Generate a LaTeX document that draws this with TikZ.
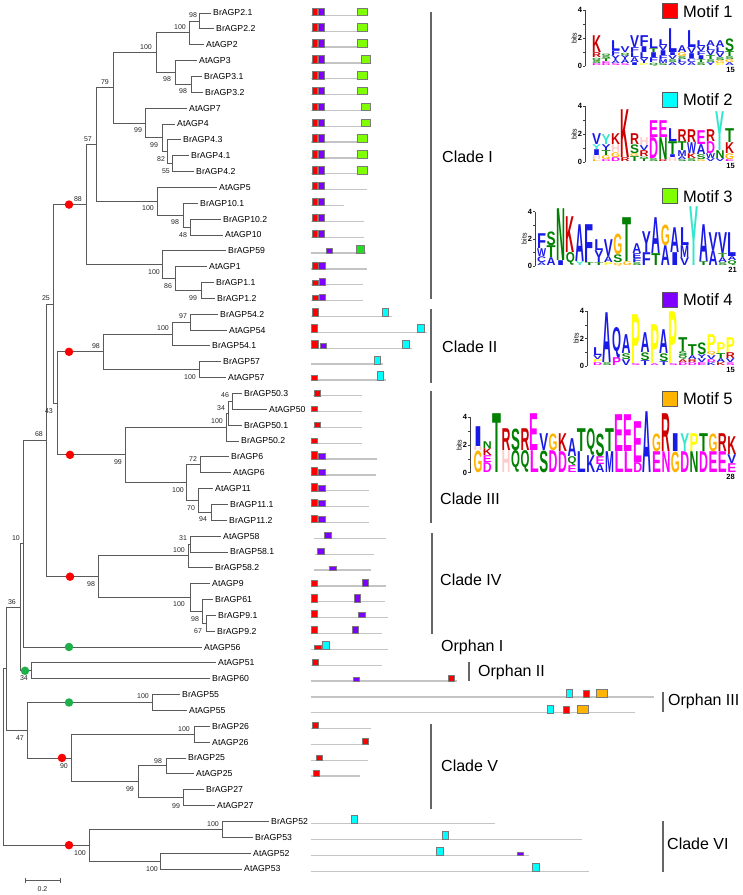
\documentclass[tikz,border=0pt]{standalone}
\usepackage{fontspec}
\setmainfont{Liberation Sans}
\usepackage{graphicx}
\usetikzlibrary{positioning}

\definecolor{treeline}{HTML}{5A5A5A}
\definecolor{protgray}{HTML}{C4C4C4}
\definecolor{boxedge}{HTML}{7A7A7A}
\definecolor{mone}{HTML}{FF0000}
\definecolor{mtwo}{HTML}{00FFFF}
\definecolor{mthree}{HTML}{80FF00}
\definecolor{mthreeb}{HTML}{22DD22}
\definecolor{mfour}{HTML}{8000FF}
\definecolor{mfive}{HTML}{FFB400}
\definecolor{cB}{HTML}{1A1AE6}
\definecolor{cR}{HTML}{CC0000}
\definecolor{cG}{HTML}{008000}
\definecolor{cM}{HTML}{FF00FF}
\definecolor{cH}{HTML}{FFCCCC}
\definecolor{cO}{HTML}{FFB300}
\definecolor{cY}{HTML}{FFFF00}
\definecolor{cC}{HTML}{33E6CC}
\definecolor{dotred}{HTML}{FF0000}
\definecolor{dotgreen}{HTML}{1DB04B}

\tikzset{
  branch/.style={draw=treeline, line width=0.8pt},
  leaf/.style={anchor=west, inner xsep=2.5pt, inner ysep=0pt, font=\fontsize{8.7}{10}\selectfont},
  boot/.style={inner sep=0pt, font=\fontsize{7}{8}\selectfont, text=black!85},
  reddot/.style={circle, fill=dotred, inner sep=0pt, minimum size=8.5pt},
  greendot/.style={circle, fill=dotgreen, inner sep=0pt, minimum size=8.5pt},
  protein/.style={draw=protgray, line width=1.3pt},
  motifbox/.style={draw=boxedge, line width=0.4pt},
  cladebar/.style={draw=black!60, line width=1.1pt},
  cladelabel/.style={anchor=west, inner sep=0pt, font=\fontsize{16}{18}\selectfont},
  keybox/.style={draw=black!65, line width=0.8pt, minimum size=15pt, inner sep=0pt},
  keylabel/.style={inner sep=0pt, font=\fontsize{16.5}{18}\selectfont},
  logoletter/.style={anchor=south west, inner sep=0pt, font=\bfseries},
  logoaxis/.style={draw=black!75, line width=0.5pt},
  bitsnum/.style={anchor=east, inner sep=0.5pt, font=\bfseries\fontsize{7.5}{8}\selectfont},
  bitslabel/.style={rotate=90, inner sep=0pt, font=\fontsize{7}{8}\selectfont},
  motiflen/.style={anchor=north east, inner sep=0pt, font=\bfseries\fontsize{7.5}{8}\selectfont}
}

% stacked letters, bottom to top: letter/colour/height
\newcommand\seqlogo[5]{%
  \pgfmathsetmacro\letw{#4-0.5}%
  \foreach \col [count=\kc] in {#5}{%
    \pgfmathsetmacro\colx{#2+(\kc-1)*#4}%
    \xdef\logoy{#3}%
    \foreach \lt/\lc/\lh [count=\jl] in \col{%
      \pgfmathsetmacro\leth{\lh-0.2}%
      \node[logoletter] (#1-\kc-\jl) at (\colx,\logoy)
        {\resizebox*{\letw pt}{\leth pt}{\textcolor{\lc}{\lt}}};
      \pgfmathsetmacro\nexty{\logoy-\lh}%
      \xdef\logoy{\nexty}%
    }}}

\newcommand\bitsaxis[4]{%
  \draw[logoaxis] (#2,#3) -- (#2,{#3-4*#4});
  \foreach \bb in {0,...,4} \draw[logoaxis] (#2,{#3-\bb*#4}) -- ({#2-1.8},{#3-\bb*#4});
  \foreach \bb in {0,2,4} \node[bitsnum] (#1-b\bb) at ({#2-2.2},{#3-\bb*#4}) {\bb};
  \node[bitslabel] (#1-bits) at ({#2-11},{#3-2*#4}) {bits};}

\begin{document}
\begin{tikzpicture}[x=1pt,y=-1pt]
\useasboundingbox (0,0) rectangle (743,895);

% leaves
\foreach \tx/\lab [count=\i from 0] in {213/BrAGP2.1, 216/BrAGP2.2, 206/AtAGP2, 199/AtAGP3,
    204/BrAGP3.1, 205/BrAGP3.2, 189/AtAGP7, 177/AtAGP4, 183/BrAGP4.3, 191/BrAGP4.1,
    196/BrAGP4.2, 219/AtAGP5, 200/BrAGP10.1, 223/BrAGP10.2, 225/AtAGP10, 228/BrAGP59,
    209/AtAGP1, 216/BrAGP1.1, 217/BrAGP1.2, 220/BrAGP54.2, 229/AtAGP54, 212/BrAGP54.1,
    223/BrAGP57, 228/AtAGP57, 244/BrAGP50.3, 269/AtAGP50, 244/BrAGP50.1, 241/BrAGP50.2,
    231/BrAGP6, 233/AtAGP6, 215/AtAGP11, 230/BrAGP11.1, 229/BrAGP11.2, 223/AtAGP58,
    230/BrAGP58.1, 215/BrAGP58.2, 212/AtAGP9, 215/BrAGP61, 218/BrAGP9.1, 217/BrAGP9.2,
    204/AtAGP56, 218/AtAGP51, 212/BrAGP60, 182/BrAGP55, 189/AtAGP55, 212/BrAGP26,
    212/AtAGP26, 188/BrAGP25, 196/AtAGP25, 206/BrAGP27, 217/AtAGP27, 271/BrAGP52,
    255/BrAGP53, 253/AtAGP52, 244/AtAGP53}
  \node[leaf] (l\i) at ({\tx-2.5},{13+15.85*\i}) {\lab};

% inner nodes
\coordinate (a1) at (199,20.93);
\coordinate (a2) at (189,32.81);
\coordinate (a3) at (191,84.33);
\coordinate (a4) at (175,72.44);
\coordinate (a5) at (156,52.63);
\coordinate (a6) at (172,163.58);
\coordinate (a7) at (167,151.69);
\coordinate (a8) at (162,137.82);
\coordinate (a9) at (145,122.96);
\coordinate (a10) at (113,87.8);
\coordinate (b1) at (190,226.98);
\coordinate (b2) at (183,215.09);
\coordinate (b3) at (157,201.22);
\coordinate (b4) at (96,144.51);
\coordinate (c1) at (201,290.38);
\coordinate (c2) at (175,278.49);
\coordinate (c3) at (162,264.62);
\coordinate (cladeI) at (86,204.57);
\coordinate (d1) at (190,322.08);
\coordinate (d2) at (172,333.96);
\coordinate (d3) at (199,369.63);
\coordinate (cladeII) at (103,351.8);
\coordinate (e1) at (232,401.33);
\coordinate (e2) at (228,413.2);
\coordinate (e3) at (226.5,427.08);
\coordinate (e4) at (200,464.73);
\coordinate (e5) at (211,512.28);
\coordinate (e6) at (198,500.39);
\coordinate (e7) at (186,482.56);
\coordinate (cladeIII) at (125,454.82);
\coordinate (n43) at (57,403.31);
\coordinate (n25) at (53,303.94);
\coordinate (f1) at (190,543.98);
\coordinate (f2) at (188,555.86);
\coordinate (f3) at (206,623.23);
\coordinate (f4) at (202,611.34);
\coordinate (f5) at (190,597.47);
\coordinate (cladeIV) at (98,576.67);
\coordinate (n68) at (46,440.3);
\coordinate (n10) at (23,543.65);
\coordinate (orphII) at (31,670.78);
\coordinate (n36) at (20,607.2);
\coordinate (g1) at (152,702.48);
\coordinate (g2) at (194,734.18);
\coordinate (g3) at (166,765.88);
\coordinate (g4) at (183,797.58);
\coordinate (g5) at (138,781.73);
\coordinate (cladeV) at (71,757.95);
\coordinate (n47) at (27,730.2);
\coordinate (n6) at (6,668.7);
\coordinate (h1) at (222,829.28);
\coordinate (h2) at (160,860.98);
\coordinate (cladeVI) at (89,845.13);
\coordinate (root) at (3,756.9);

\foreach \p/\q in {a1/l0.west, a1/l1.west, a2/a1, a2/l2.west, a3/l4.west, a3/l5.west,
    a4/l3.west, a4/a3, a5/a2, a5/a4, a6/l9.west, a6/l10.west, a7/l8.west, a7/a6,
    a8/l7.west, a8/a7, a9/l6.west, a9/a8, a10/a5, a10/a9, b1/l13.west, b1/l14.west,
    b2/l12.west, b2/b1, b3/l11.west, b3/b2, b4/a10, b4/b3, c1/l17.west, c1/l18.west,
    c2/l16.west, c2/c1, c3/l15.west, c3/c2, cladeI/b4, cladeI/c3,
    d1/l19.west, d1/l20.west, d2/d1, d2/l21.west, d3/l22.west, d3/l23.west,
    cladeII/d2, cladeII/d3, e1/l24.west, e1/l25.west, e2/e1, e2/l26.west, e3/e2,
    e3/l27.west, e4/l28.west, e4/l29.west, e5/l31.west, e5/l32.west, e6/l30.west,
    e6/e5, e7/e4, e7/e6, cladeIII/e3, cladeIII/e7, n43/cladeII, n43/cladeIII,
    n25/cladeI, n25/n43, f1/l33.west, f1/l34.west, f2/f1, f2/l35.west, f3/l38.west,
    f3/l39.west, f4/l37.west, f4/f3, f5/l36.west, f5/f4, cladeIV/f2, cladeIV/f5,
    n68/n25, n68/cladeIV, n10/n68, n10/l40.west, orphII/l41.west, orphII/l42.west,
    n36/n10, n36/orphII, g1/l43.west, g1/l44.west, g2/l45.west, g2/l46.west,
    g3/l47.west, g3/l48.west, g4/l49.west, g4/l50.west, g5/g3, g5/g4, cladeV/g2,
    cladeV/g5, n47/g1, n47/cladeV, n6/n36, n6/n47, h1/l51.west, h1/l52.west,
    h2/l53.west, h2/l54.west, cladeVI/h1, cladeVI/h2, root/n6, root/cladeVI}
  \draw[branch] (\p) |- (\q);

% bootstrap values
\foreach \bx/\by/\bv [count=\kk] in {193/15/98, 180/27/100, 146/47/100, 167/79/98, 183/91/98,
    105/82/79, 88/139/57, 138/130/99, 154/145/99, 161/159/82, 166/171/55, 148/208/100,
    175/222/98, 183/235/48, 78/199/88, 154/272/100, 168/286/86, 193/298/99, 46/298/25,
    183/316/97, 163/328/100, 96/346/98, 190/377/100, 225/395/46, 221/408/34, 217/421/100,
    49/411/43, 39/434/68, 118/462/99, 193/459/72, 178/490/100, 191/508/70, 203/519/94,
    16/538/10, 183/538/31, 179/550/100, 91/584/98, 179/604/100, 195/619/98, 198/631/67,
    12/602/36, 24/678/34, 143/696/100, 20/738/47, 184/729/100, 64/766/90, 158/761/98,
    130/789/99, 176/806/99, 213/824/100, 80/853/100, 152/869/100}
  \node[boot] (bs\kk) at (\bx,\by) {\bv};

\node[reddot] (dotI) at (69,204.57) {};
\node[reddot] (dotII) at (69,351.8) {};
\node[reddot] (dotIII) at (70,454.82) {};
\node[reddot] (dotIV) at (70,576.67) {};
\node[greendot] (dotOI) at (69,647) {};
\node[greendot] (dotOII) at (25,670.78) {};
\node[greendot] (dotOIII) at (69,702.48) {};
\node[reddot] (dotV) at (62,757.95) {};
\node[reddot] (dotVI) at (69,845.13) {};

% scale bar
\coordinate (sbl) at (25,880.7);
\coordinate (sbr) at (60,880.7);
\draw[branch] (sbl) -- (sbr);
\draw[branch] ([yshift=2.5pt]sbl) -- ([yshift=-2.5pt]sbl);
\draw[branch] ([yshift=2.5pt]sbr) -- ([yshift=-2.5pt]sbr);
\node[boot] (sblab) at (42.5,889.5) {0.2};

% protein lengths and motif positions
\foreach \mr/\mx/\my in {0/311/367, 1/311/367, 2/311/367, 3/311/370, 4/311/367, 5/311/367,
    6/311/371, 7/311/371, 8/311/367, 9/311/367, 10/311/367, 11/311/367, 12/311/344,
    13/311/364, 14/311/364, 15/311/366, 16/311/367, 17/311/363, 18/311/363, 19/311/392,
    20/311/427, 21/311/412, 22/311/383, 23/311/386, 24/313/362, 25/311/362, 26/313/362,
    27/311/362, 28/311/377, 29/311/376, 30/311/369, 31/311/369, 32/311/369, 33/314/386,
    34/315/374, 35/314/371, 36/311/386, 37/311/385, 38/311/388, 39/311/382, 40/311/388,
    41/311/382, 42/311/457, 43/311/654, 44/311/635, 45/311/371, 46/311/369, 47/311/368,
    48/311/360, 51/311/495, 52/311/582, 53/311/529, 54/311/589}
  \draw[protein] (\mx,{15.3+15.85*\mr}) -- (\my,{15.3+15.85*\mr});

\foreach \mr/\mx/\my/\mh/\mc in {
    0/312/317.5/7.5/mone, 0/318/324/7.5/mfour, 0/357.5/367/7.5/mthree,
    1/312/317.5/7.5/mone, 1/318/324/7.5/mfour, 1/357.5/367/7.5/mthree,
    2/312/317.5/7.5/mone, 2/318/324/7.5/mfour, 2/357.5/367/7.5/mthree,
    3/312/317.5/7.5/mone, 3/318/324/7.5/mfour, 3/361/370.5/7.5/mthree,
    4/312/317.5/7.5/mone, 4/318/324/7.5/mfour, 4/357.5/367/7.5/mthree,
    5/312/317.5/7.5/mone, 5/318/324/7.5/mfour, 5/357.5/367/7.5/mthree,
    6/312/317.5/7.5/mone, 6/318/324/7.5/mfour, 6/361/370.5/7.5/mthree,
    7/312/317.5/7.5/mone, 7/318/324/7.5/mfour, 7/361/370.5/7.5/mthree,
    8/312/317.5/7.5/mone, 8/318/324/7.5/mfour, 8/357.5/367/7.5/mthree,
    9/312/317.5/7.5/mone, 9/318/324/7.5/mfour, 9/357.5/367/7.5/mthree,
    10/312/317.5/7.5/mone, 10/318/324/7.5/mfour, 10/357.5/367/7.5/mthree,
    11/312/317.5/7.5/mone, 11/318/324/7.5/mfour,
    12/312/317.5/7.5/mone, 12/318/324/7.5/mfour,
    13/312/317.5/7.5/mone, 13/318/324/7/mfour,
    14/312/317.5/7.5/mone, 14/318/324/7.5/mfour,
    15/325.7/331.7/5/mfour, 15/355.7/364.3/7.5/mthreeb,
    16/312/318/6.5/mone, 16/318.5/325/6.5/mfour,
    17/312/318/5/mone, 17/319/325/6.5/mfour,
    18/312/318/5/mone, 18/319/325/6.5/mfour,
    19/312/318/8/mone, 19/382/388/8/mtwo,
    20/311/317/8/mone, 20/417/424/8/mtwo,
    21/311/318/8/mone, 21/320/326/5/mfour, 21/402/409/8/mtwo,
    22/373.7/380/8/mtwo,
    23/311/317.5/5/mone, 23/377/383/8.5/mtwo,
    24/314/320.5/6/mone, 25/311/317.5/5.5/mone, 26/314/320.5/5.5/mone,
    27/311.5/317.5/5.5/mone,
    28/311/317.5/7.5/mone, 28/318.5/325/6/mfour,
    29/311/317.5/7.5/mone, 29/318.5/325/6/mfour,
    30/311/317.5/7.5/mone, 30/318.5/325/6/mfour,
    31/311/317.5/7.5/mone, 31/318.5/325/6/mfour,
    32/311/317.5/7.5/mone, 32/318.5/325/6/mfour,
    33/324/331/6.5/mfour, 34/317/324/6/mfour, 35/329/336/4/mfour,
    36/311/316.7/6/mone, 36/361.7/368.3/7/mfour,
    37/311/317.3/8/mone, 37/354/360.3/8/mfour,
    38/311/317.3/7.5/mone, 38/358.3/365.3/5.5/mfour,
    39/311/317.3/7.5/mone, 39/351.7/358.3/7/mfour,
    40/314.3/320.7/4.5/mone, 40/322.3/328.7/8.5/mtwo,
    41/311.7/317.7/5.5/mone,
    42/353.3/359.3/3.5/mfour, 42/447.7/454/6/mone,
    43/565.7/572/8/mtwo, 43/582.7/588.7/7/mone, 43/595.7/607.3/8/mfive,
    44/546.7/552.7/8/mtwo, 44/563.3/569.3/7/mone, 44/576.7/588.3/8/mfive,
    45/311.7/318.3/6/mone, 46/361.7/368.3/6.5/mone, 47/315.7/322.3/5/mone,
    48/312.7/319.3/6/mone,
    51/351/357.3/8.5/mtwo, 52/441.7/448.3/8/mtwo,
    53/436/442.7/8/mtwo, 53/516.7/523.3/3.5/mfour,
    54/532.3/539/8.5/mtwo}
  \filldraw[motifbox, fill=\mc] (\mx,{15.3+15.85*\mr}) rectangle (\my,{15.3+15.85*\mr-\mh});

% clades
\draw[cladebar] (431,12) -- (431,299);
\draw[cladebar] (431,309) -- (431,383);
\draw[cladebar] (431,391) -- (431,523);
\draw[cladebar] (432,533) -- (432,634);
\draw[cladebar] (469,662) -- (469,681);
\draw[cladebar] (663,692) -- (663,712);
\draw[cladebar] (431,724) -- (431,809);
\draw[cladebar] (663,821) -- (663,872);
\node[cladelabel] (labI) at (442,157) {Clade I};
\node[cladelabel] (labII) at (442,347) {Clade II};
\node[cladelabel] (labIII) at (440,499) {Clade III};
\node[cladelabel] (labIV) at (440,580) {Clade IV};
\node[cladelabel] (labOI) at (441,647) {Orphan I};
\node[cladelabel] (labOII) at (478,672) {Orphan II};
\node[cladelabel] (labOIII) at (668,701) {Orphan III};
\node[cladelabel] (labV) at (441,766) {Clade V};
\node[cladelabel] (labVI) at (667,844) {Clade VI};

% motif keys
\node[keybox, fill=mone] (key1) at (670,11.3) {};
\node[keylabel, right=5pt of key1] (keytext1) {Motif 1};
\node[keybox, fill=mtwo] (key2) at (670,100) {};
\node[keylabel, right=5pt of key2] (keytext2) {Motif 2};
\node[keybox, fill=mthree] (key3) at (670,196.2) {};
\node[keylabel, right=5pt of key3] (keytext3) {Motif 3};
\node[keybox, fill=mfour] (key4) at (670,299.5) {};
\node[keylabel, right=5pt of key4] (keytext4) {Motif 4};
\node[keybox, fill=mfive] (key5) at (670,399) {};
\node[keylabel, right=5pt of key5] (keytext5) {Motif 5};

% logos
\bitsaxis{axA}{585}{66}{14}
\seqlogo{lA}{592}{66}{9.5}{
  {D/cM/2,S/cG/3,Q/cG/3,R/cR/5,K/cR/17},
  {D/cM/2,E/cM/2,T/cG/3,S/cG/3,Q/cG/2},
  {S/cM/2,A/cB/3,Y/cB/5,F/cB/5,L/cB/10},
  {S/cM/2,A/cB/4,Y/cB/4,Q/cG/3,V/cB/6},
  {I/cB/3,A/cB/5,L/cB/5,F/cB/5,V/cB/12},
  {P/cY/2,Y/cB/5,L/cB/6,I/cB/6,F/cB/11},
  {Q/cG/3,F/cB/5,I/cB/5,T/cG/4,L/cB/10},
  {S/cG/2,M/cB/4,F/cB/4,I/cB/5,V/cB/5,L/cB/6},
  {A/cB/3,S/cG/3,V/cB/4,I/cB/3,L/cB/24},
  {V/cB/3,L/cB/3,S/cG/3,G/cO/4,A/cB/7},
  {A/cB/3,C/cB/4,I/cB/5,V/cB/6,L/cB/17},
  {S/cG/3,T/cG/3,I/cB/4,F/cB/4,V/cB/5,L/cB/6},
  {Y/cB/3,S/cG/3,T/cG/4,V/cB/5,L/cB/4,A/cB/6},
  {P/cY/2,G/cO/3,S/cG/3,V/cB/5,L/cB/5,A/cB/7},
  {A/cB/3,G/cO/3,S/cG/3,T/cG/5,S/cG/13}}
\node[motiflen] (lenA) at (735,67) {15};

\bitsaxis{axB}{585}{162}{14}
\seqlogo{lB}{592}{162}{9.5}{
  {L/cO/2,H/cH/4,I/cB/6,Y/cC/5,V/cB/11},
  {D/cM/2,G/cO/4,T/cG/5,Y/cB/6,Y/cC/10},
  {D/cM/4,G/cO/5,H/cH/8,K/cR/11},
  {R/cR/4,K/cR/48},
  {T/cG/5,G/cO/3,S/cG/9,R/cR/11},
  {T/cG/3,Q/cG/2,R/cR/6,V/cB/5,H/cH/8},
  {S/cG/3,D/cM/21,E/cM/17},
  {R/cR/2,N/cG/22,E/cM/17},
  {H/cH/4,I/cB/3,T/cG/13,L/cB/13},
  {S/cG/2,A/cB/3,M/cB/6,T/cG/9,R/cR/12},
  {S/cG/3,K/cR/5,W/cB/11,R/cR/13},
  {G/cO/2,S/cG/5,A/cB/10,E/cM/14},
  {V/cB/3,W/cB/5,D/cM/12,R/cR/12},
  {V/cB/3,N/cG/8,Y/cC/39},
  {E/cM/2,G/cO/6,K/cR/11,T/cG/14}}
\node[motiflen] (lenB) at (735,163) {15};

\bitsaxis{axC}{535}{266}{13.6}
\seqlogo{lC}{537}{266}{9.52}{
  {A/cB/3,C/cB/6,W/cB/8,F/cB/15},
  {A/cB/8,T/cG/12,S/cG/14},
  {I/cB/5,N/cG/52},
  {Q/cG/13,K/cR/36},
  {Y/cC/4,A/cB/37},
  {T/cG/3,F/cB/38},
  {T/cG/3,Y/cB/12,L/cB/11},
  {P/cY/3,A/cB/6,V/cB/17},
  {Q/cO/3,S/cG/8,G/cO/21},
  {G/cO/4,T/cG/44},
  {S/cG/3,F/cB/4,E/cB/5,A/cB/10},
  {F/cB/13,Y/cB/21},
  {T/cG/12,A/cB/36},
  {A/cB/20,G/cO/21},
  {I/cB/13,A/cB/25},
  {V/cB/8,M/cB/12,L/cB/18},
  {Y/cC/59},
  {T/cG/4,A/cB/37},
  {A/cB/15,V/cB/18},
  {S/cG/3,A/cB/5,T/cG/4,V/cB/21},
  {Q/cG/5,A/cB/4,L/cB/24}}
\node[motiflen] (lenC) at (737,267) {21};

\bitsaxis{axD}{587}{366}{13.75}
\seqlogo{lD}{593}{366}{9.47}{
  {D/cM/3,P/cY/3,V/cB/4,L/cB/8},
  {S/cG/3,A/cB/50},
  {P/cM/8,Q/cB/31},
  {V/cB/6,S/cG/6,A/cB/19},
  {S/cM/2,P/cY/49},
  {T/cB/5,S/cG/8,A/cB/20},
  {A/cM/2,P/cY/39},
  {T/cB/4,S/cG/8,A/cB/24},
  {S/cM/2,P/cY/52},
  {D/cM/3,A/cR/3,Q/cG/4,S/cG/4,T/cG/14},
  {D/cM/3,R/cR/3,A/cB/4,T/cG/11},
  {E/cM/3,V/cB/4,Y/cB/4,S/cG/12},
  {K/cB/3,D/cM/3,V/cB/4,Q/cO/4,P/cY/17},
  {K/cR/3,A/cB/4,T/cG/5,P/cY/11},
  {S/cM/3,V/cB/4,R/cR/6,P/cY/15}}
\node[motiflen] (lenD) at (735,367) {15};

\bitsaxis{axE}{470}{472.7}{13.85}
\seqlogo{lE}{473.3}{472.7}{9.4}{
  {G/cO/22,H/cH/4,I/cB/20},
  {D/cM/10,E/cM/7,K/cR/7,N/cG/7},
  {T/cG/59},
  {H/cH/22,R/cR/22},
  {Q/cG/22,S/cG/22},
  {Q/cG/22,R/cR/22},
  {L/cM/22,E/cM/37},
  {S/cG/22,V/cB/17},
  {D/cM/22,G/cO/17},
  {D/cM/21,K/cR/18},
  {E/cM/7,Q/cG/9,A/cB/18},
  {L/cB/21,T/cG/23},
  {K/cB/17,Q/cG/27},
  {A/cB/8,E/cM/8,S/cG/23},
  {M/cB/21,T/cG/23},
  {L/cM/21,E/cM/37},
  {L/cM/21,E/cM/37},
  {D/cM/10,E/cM/41},
  {A/cB/61},
  {E/cM/21,G/cO/18},
  {N/cM/21,R/cR/38},
  {G/cO/21,I/cB/18},
  {D/cM/21,Y/cC/18},
  {N/cG/21,P/cY/18},
  {D/cM/21,T/cG/18},
  {E/cM/21,G/cO/18},
  {E/cM/21,R/cR/18},
  {E/cM/9,V/cB/9,K/cR/18}}
\node[motiflen] (lenE) at (735,474) {28};
\end{tikzpicture}
\end{document}
